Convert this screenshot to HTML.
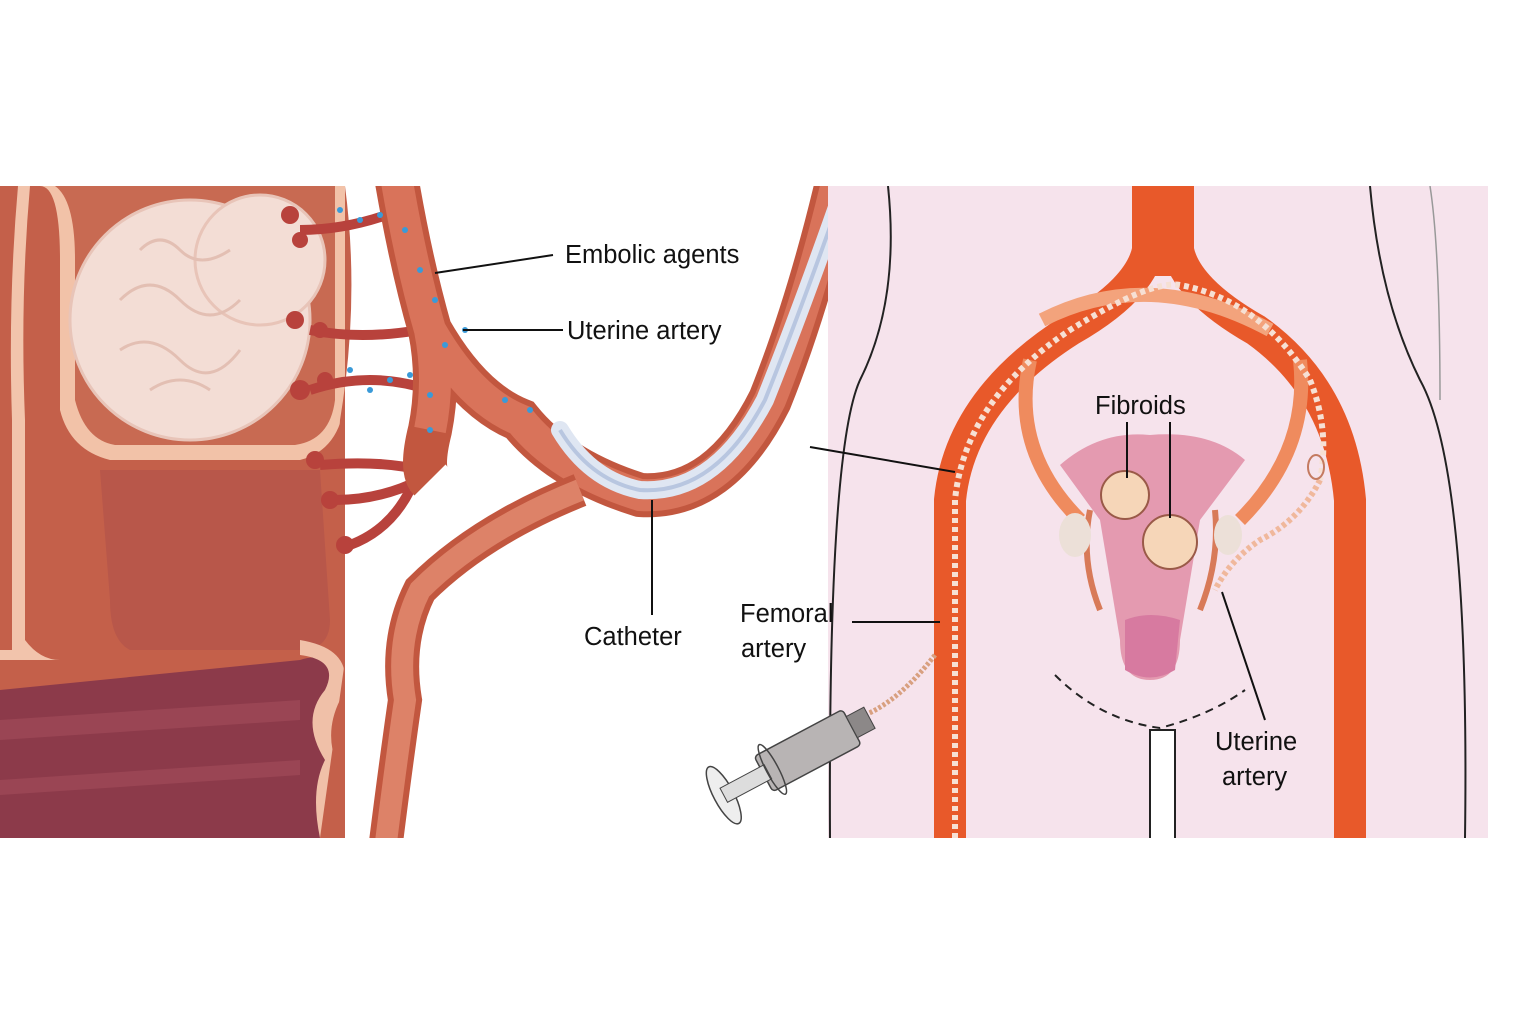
<!DOCTYPE html>
<html><head><meta charset="utf-8"><style>
html,body{margin:0;padding:0;background:#fff;}
svg{display:block}
text{font-family:"Liberation Sans",Arial,sans-serif;font-size:25.5px;fill:#111}
</style></head><body>
<svg width="1536" height="1024" viewBox="0 0 1536 1024" xmlns="http://www.w3.org/2000/svg">
<rect width="1536" height="1024" fill="#fff"/>
<defs><clipPath id="lc"><rect x="0" y="186" width="445" height="652"/></clipPath>
<clipPath id="rc"><rect x="828" y="186" width="660" height="652"/></clipPath>
<clipPath id="band"><rect x="0" y="186" width="1536" height="652"/></clipPath></defs>
<g clip-path="url(#lc)">
<rect x="0" y="186" width="445" height="652" fill="#c4604a"/>
<path d="M0 186 L30 186 Q20 300 25 420 L25 640 Q40 660 60 660 L0 660 Z" fill="#f2c4ac"/>
<path d="M0 186 L18 186 Q8 300 12 420 L12 650 L0 650 Z" fill="#c4604a"/>
<path d="M40 186 Q60 186 60 260 L60 410 Q70 450 110 460 L300 460 Q340 450 345 400 L345 186 Z" fill="#f2c2a8"/>
<path d="M55 186 Q75 200 75 260 L75 400 Q85 440 115 445 L295 445 Q330 440 335 400 L335 186 Z" fill="#c86a52"/>
<path d="M100 470 L320 470 L330 620 Q330 650 300 650 L130 650 Q110 640 110 600 Z" fill="#b8574a"/>
<circle cx="190" cy="320" r="120" fill="#f3ddd5" stroke="#e8c4b8" stroke-width="3"/>
<circle cx="260" cy="260" r="65" fill="#f3ddd5" stroke="#e8c4b8" stroke-width="3"/>
<path d="M120 300 q30 -30 60 0 t60 0 M120 350 q30 -20 60 10 t60 -10 M140 250 q20 -20 40 0 t50 0 M150 390 q30 -20 60 0" stroke="#e3bfb3" stroke-width="3" fill="none"/>
<path d="M0 690 L300 660 Q330 650 330 680 L330 838 L0 838 Z" fill="#8c3a4a"/>
<path d="M0 720 L300 700 L300 720 L0 740 Z M0 780 L300 760 L300 775 L0 795 Z" fill="#a04a58" opacity="0.7"/>
<path d="M300 640 Q360 650 340 700 Q320 740 345 780 Q330 810 340 838 L320 838 Q310 790 325 760 Q300 720 325 690 Q340 660 300 655 Z" fill="#f0c0a8"/>
<path d="M345 186 L445 186 L445 838 L345 838 Z" fill="#fff"/>
<path d="M345 186 Q360 300 340 420 Q330 560 345 660 L320 838 L345 838 Z" fill="#c4604a"/>
</g>
<g fill="#b8423c">
<circle cx="290" cy="215" r="9"/><circle cx="300" cy="240" r="8"/><circle cx="295" cy="320" r="9"/><circle cx="320" cy="330" r="8"/>
<circle cx="300" cy="390" r="10"/><circle cx="325" cy="380" r="8"/><circle cx="315" cy="460" r="9"/><circle cx="330" cy="500" r="9"/><circle cx="345" cy="545" r="9"/>
</g>
<path d="M300 230 Q350 230 400 210 M310 330 Q360 340 420 330 M310 390 Q370 370 430 390 M320 465 Q380 460 420 470 M335 500 Q380 500 420 480 M350 545 Q390 530 410 490" stroke="#b8423c" stroke-width="10" fill="none"/>
<g clip-path="url(#band)">
<path d="M395 170 Q410 260 430 330 Q440 380 430 430 Q420 470 430 480 M430 330 Q470 400 520 420 Q560 470 640 495 Q720 500 770 400 Q810 300 840 170" stroke="#c2573f" stroke-width="44" fill="none"/>
<path d="M395 170 Q410 260 430 330 Q440 380 430 430 M430 330 Q470 400 520 420 Q560 470 640 495 Q720 500 770 400 Q810 300 840 170" stroke="#d9735a" stroke-width="32" fill="none"/>
<path d="M560 430 Q590 480 640 490 Q715 495 765 400 Q805 300 850 170" stroke="#dfe6f2" stroke-width="18" fill="none" stroke-linecap="round"/>
<path d="M560 430 Q590 480 640 490 Q715 495 765 400 Q805 300 850 170" stroke="#b8c6e0" stroke-width="4" fill="none"/>
<path d="M580 490 Q480 530 420 590 Q395 640 405 700 Q395 770 385 850" stroke="#c2573f" stroke-width="34" fill="none"/>
<path d="M580 490 Q480 530 420 590 Q395 640 405 700 Q395 770 385 850" stroke="#dd8268" stroke-width="22" fill="none"/>
</g>
<g fill="#3a9ad8">
<circle cx="405" cy="230" r="3"/><circle cx="420" cy="270" r="3"/><circle cx="435" cy="300" r="3"/><circle cx="445" cy="345" r="3"/><circle cx="380" cy="215" r="3"/><circle cx="360" cy="220" r="3"/><circle cx="340" cy="210" r="3"/><circle cx="390" cy="380" r="3"/><circle cx="370" cy="390" r="3"/><circle cx="410" cy="375" r="3"/><circle cx="430" cy="395" r="3"/><circle cx="505" cy="400" r="3"/><circle cx="530" cy="410" r="3"/><circle cx="465" cy="330" r="3"/><circle cx="430" cy="430" r="3"/><circle cx="350" cy="370" r="3"/>
</g>
<g clip-path="url(#rc)">
<rect x="828" y="186" width="660" height="652" fill="#f6e3ec"/>
<path d="M888 186 Q900 300 860 380 Q828 450 830 838" stroke="#222" stroke-width="2" fill="none"/>
<path d="M1370 186 Q1380 300 1420 380 Q1470 470 1465 838" stroke="#222" stroke-width="2" fill="none"/>
<path d="M1430 186 Q1440 250 1440 400" stroke="#999" stroke-width="1.5" fill="none"/>
<path d="M1150 838 L1150 730 L1175 730 L1175 838" stroke="#222" stroke-width="2" fill="#fff"/>
<path d="M1055 675 Q1100 720 1160 728 Q1210 715 1245 690" stroke="#222" stroke-width="2" stroke-dasharray="8 6" fill="none"/>
<path d="M1148 186 L1148 250 Q1140 290 1070 330 Q960 400 950 500 L950 838" stroke="#e8592a" stroke-width="32" fill="none"/>
<path d="M1178 186 L1178 250 Q1186 290 1256 330 Q1340 390 1350 500 L1350 838" stroke="#e8592a" stroke-width="32" fill="none"/>
<rect x="1133" y="186" width="60" height="90" fill="#e8592a"/>
<path d="M1030 360 Q1010 450 1080 520 M1300 360 Q1310 450 1240 520" stroke="#ef8b5e" stroke-width="14" fill="none"/>
<path d="M1042 320 Q1150 265 1270 330" stroke="#f3a37c" stroke-width="14" fill="none"/>
<path d="M955 838 L955 500 Q965 400 1070 330 Q1150 280 1180 285 Q1260 300 1310 380 Q1330 430 1320 480" stroke="#f6e0d4" stroke-width="6" stroke-dasharray="5 4" fill="none"/>
<path d="M1320 480 Q1300 520 1260 540 Q1230 560 1215 590" stroke="#f0b89c" stroke-width="6" stroke-dasharray="4 3" fill="none"/>
<ellipse cx="1316" cy="467" rx="8" ry="12" fill="none" stroke="#c47a60" stroke-width="2"/>
<path d="M1060 465 Q1100 430 1150 435 Q1210 430 1245 460 L1200 520 Q1190 580 1180 640 Q1180 680 1150 680 Q1120 680 1120 640 Q1110 580 1100 520 Z" fill="#e49ab0"/>
<path d="M1125 620 Q1150 610 1180 620 L1175 670 Q1150 685 1125 670 Z" fill="#d77aa0"/>
<path d="M1090 510 Q1080 560 1100 610 M1215 510 Q1220 560 1200 610" stroke="#d87a58" stroke-width="6" fill="none"/>
<ellipse cx="1075" cy="535" rx="16" ry="22" fill="#ece0d8"/>
<ellipse cx="1228" cy="535" rx="14" ry="20" fill="#ece0d8"/>
<circle cx="1125" cy="495" r="24" fill="#f6d6b8" stroke="#9a5a48" stroke-width="2"/>
<circle cx="1170" cy="542" r="27" fill="#f6d6b8" stroke="#9a5a48" stroke-width="2"/>
</g>
<path d="M935 655 Q900 700 865 715" stroke="#d8a080" stroke-width="5" stroke-dasharray="3 2" fill="none"/>
<g transform="translate(790,760) rotate(-28)">
<rect x="-30" y="-20" width="100" height="40" rx="4" fill="#b8b4b4" stroke="#444" stroke-width="1.5"/>
<rect x="70" y="-12" width="20" height="24" fill="#8c8888" stroke="#444"/>
<ellipse cx="-75" cy="0" rx="10" ry="32" fill="#eee" stroke="#444" stroke-width="1.5"/>
<rect x="-75" y="-8" width="50" height="16" fill="#ddd" stroke="#444"/>
<ellipse cx="-20" cy="0" rx="6" ry="28" fill="none" stroke="#444" stroke-width="1.5"/>
</g>
<g stroke="#111" stroke-width="2" fill="none">
<line x1="435" y1="273" x2="553" y2="255"/>
<line x1="463" y1="330" x2="563" y2="330"/>
<line x1="652" y1="500" x2="652" y2="615"/>
<line x1="810" y1="447" x2="955" y2="472"/>
<line x1="852" y1="622" x2="940" y2="622"/>
<line x1="1127" y1="422" x2="1127" y2="478"/>
<line x1="1170" y1="422" x2="1170" y2="518"/>
<line x1="1222" y1="592" x2="1265" y2="720"/>
</g>
<text x="565" y="263">Embolic agents</text>
<text x="567" y="339">Uterine artery</text>
<text x="584" y="645">Catheter</text>
<text x="740" y="622">Femoral</text>
<text x="741" y="657">artery</text>
<text x="1095" y="414">Fibroids</text>
<text x="1215" y="750">Uterine</text>
<text x="1222" y="785">artery</text>
</svg>
</body></html>
